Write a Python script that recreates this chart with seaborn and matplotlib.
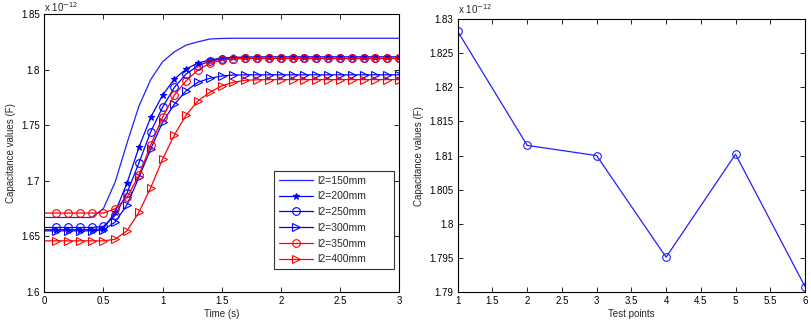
import numpy as np
import pandas as pd
import matplotlib
matplotlib.use("Agg")
import matplotlib.pyplot as plt
from matplotlib.ticker import FuncFormatter
import seaborn as sns

# ---- data (capacitance in units of 1e-12 F) ----
time_s = [0.0, 0.1, 0.2, 0.3, 0.4, 0.5, 0.6, 0.7, 0.8, 0.9, 1.0,
          1.1, 1.2, 1.3, 1.4, 1.5, 1.6, 1.7, 1.8, 1.9, 2.0,
          2.1, 2.2, 2.3, 2.4, 2.5, 2.6, 2.7, 2.8, 2.9, 3.0]

c_150 = [1.667, 1.667, 1.667, 1.667, 1.667, 1.675, 1.699, 1.734, 1.767, 1.791, 1.807,
         1.816, 1.822, 1.825, 1.8275, 1.828, 1.8282, 1.8282, 1.8282, 1.8282, 1.8282,
         1.8282, 1.8282, 1.8282, 1.8282, 1.8282, 1.8282, 1.8282, 1.8282, 1.8282, 1.8282]
c_200 = [1.656, 1.656, 1.656, 1.656, 1.656, 1.657, 1.672, 1.698, 1.730, 1.757, 1.777,
         1.7915, 1.8005, 1.806, 1.8086, 1.8104, 1.811, 1.8113, 1.8115, 1.8115, 1.8115,
         1.8115, 1.8115, 1.8115, 1.8115, 1.8115, 1.8115, 1.8115, 1.8115, 1.8115, 1.8115]
c_250 = [1.658, 1.658, 1.658, 1.658, 1.658, 1.659, 1.669, 1.689, 1.716, 1.744, 1.766,
         1.784, 1.796, 1.8035, 1.8077, 1.8094, 1.8098, 1.810, 1.810, 1.810, 1.810,
         1.810, 1.810, 1.810, 1.810, 1.810, 1.810, 1.810, 1.810, 1.810, 1.810]
c_300 = [1.655, 1.655, 1.655, 1.655, 1.655, 1.6557, 1.663, 1.6785, 1.703, 1.7286, 1.7526,
         1.7688, 1.781, 1.7886, 1.7922, 1.7942, 1.7951, 1.7953, 1.7953, 1.7953, 1.7953,
         1.7953, 1.7953, 1.7953, 1.7953, 1.7953, 1.7953, 1.7953, 1.7953, 1.7953, 1.7953]
c_350 = [1.671, 1.671, 1.671, 1.671, 1.671, 1.671, 1.675, 1.685, 1.705, 1.732, 1.757,
         1.777, 1.790, 1.7997, 1.8056, 1.8086, 1.8098, 1.8102, 1.8102, 1.8102, 1.8102,
         1.8102, 1.8102, 1.8102, 1.8102, 1.8102, 1.8102, 1.8102, 1.8102, 1.8102, 1.8102]
c_400 = [1.646, 1.646, 1.646, 1.646, 1.646, 1.646, 1.6474, 1.6552, 1.6716, 1.6938, 1.7193,
         1.7412, 1.7592, 1.7718, 1.7796, 1.7853, 1.7886, 1.7904, 1.7908, 1.791, 1.791,
         1.791, 1.791, 1.791, 1.791, 1.791, 1.791, 1.791, 1.791, 1.791, 1.791]

series_labels = ["l2=150mm", "l2=200mm", "l2=250mm", "l2=300mm", "l2=350mm", "l2=400mm"]

test_points = [1, 2, 3, 4, 5, 6]
test_values = [1.8282, 1.8115, 1.8100, 1.7951, 1.8102, 1.7908]

left_xticks = [0, 0.5, 1, 1.5, 2, 2.5, 3]
left_yticks = [1.6, 1.65, 1.7, 1.75, 1.8, 1.85]
right_xticks = [1, 1.5, 2, 2.5, 3, 3.5, 4, 4.5, 5, 5.5, 6]
right_yticks = [1.79, 1.795, 1.8, 1.805, 1.81, 1.815, 1.82, 1.825, 1.83]

# ---- style ----
sns.set_theme(style="ticks")
plt.rcParams["font.family"] = ["Liberation Sans", "DejaVu Sans"]
plt.rcParams["font.size"] = 7
plt.rcParams["xtick.direction"] = "in"
plt.rcParams["ytick.direction"] = "in"

fig = plt.figure(figsize=(8.11, 3.24), dpi=100)
fig.patch.set_facecolor("white")
ax1 = fig.add_axes([0.0546, 0.0988, 0.4374, 0.858])
ax2 = fig.add_axes([0.5644, 0.0988, 0.4282, 0.842])

styles = [
    dict(color="#2020ff", marker=None),
    dict(color="#0000ff", marker="*", mfc="#0000ff", ms=4.5),
    dict(color="#0000ff", marker="o", mfc="none", ms=5.5),
    dict(color="#0000ff", marker=">", mfc="none", ms=5.5),
    dict(color="#ff0000", marker="o", mfc="none", ms=5.5),
    dict(color="#ff0000", marker=">", mfc="none", ms=5.5),
]
all_series = [c_150, c_200, c_250, c_300, c_350, c_400]

for vals, lab, st in zip(all_series, series_labels, styles):
    df = pd.DataFrame({"t": time_s, "c": vals})
    kw = dict(lw=0.9, label=lab, color=st["color"])
    if st["marker"]:
        kw.update(marker=st["marker"], mfc=st["mfc"], mec=st["color"], ms=st["ms"],
                  mew=0.8, markevery=slice(1, None))
    sns.lineplot(data=df, x="t", y="c", ax=ax1, estimator=None, **kw)

fmt = FuncFormatter(lambda v, p: f"{v:g}")
for ax in (ax1, ax2):
    for s in ax.spines.values():
        s.set_visible(True)
        s.set_color("black")
        s.set_linewidth(0.8)
    ax.tick_params(axis="both", which="both", direction="in", top=True, right=True,
                   labelsize=7, length=3.5, width=0.6, colors="black", pad=3)
    ax.xaxis.set_major_formatter(fmt)
    ax.yaxis.set_major_formatter(fmt)
    ax.set_facecolor("white")

ax1.set_xlim(0, 3)
ax1.set_ylim(1.6, 1.85)
ax1.set_xticks(left_xticks)
ax1.set_yticks(left_yticks)
ax1.set_xlabel("Time (s)", fontsize=7, labelpad=2)
ax1.set_ylabel("Capacitance values (F)", fontsize=7, labelpad=4)
ax1.text(0.0, 1.0, r"x 10$^{-12}$", transform=ax1.transAxes, fontsize=7, va="bottom", ha="left")

leg = ax1.legend(loc="lower left", bbox_to_anchor=(0.6476, 0.0827, 0.3384, 0.338),
                 mode="expand", fontsize=7.5, frameon=True, numpoints=1,
                 fancybox=False, edgecolor="black", handlelength=3.3, borderpad=0.45,
                 labelspacing=0.55, handletextpad=0.4, borderaxespad=0)
leg.get_frame().set_linewidth(0.8)
for ln in leg.get_lines():
    ln.set_markevery([1])

df2 = pd.DataFrame({"p": test_points, "c": test_values})
sns.lineplot(data=df2, x="p", y="c", ax=ax2, color="#2020ff", lw=0.9, marker="o",
             mfc="none", mec="#2020ff", ms=5.5, mew=0.8, estimator=None)
ax2.set_xlim(1, 6)
ax2.set_ylim(1.79, 1.83)
ax2.set_xticks(right_xticks)
ax2.set_yticks(right_yticks)
ax2.set_xlabel("Test points", fontsize=7, labelpad=2)
ax2.set_ylabel("Capacitance values (F)", fontsize=7, labelpad=4)
ax2.text(0.0, 1.012, r"x 10$^{-12}$", transform=ax2.transAxes, fontsize=7, va="bottom", ha="left")

fig.savefig("out.png", dpi=100, facecolor="white")
